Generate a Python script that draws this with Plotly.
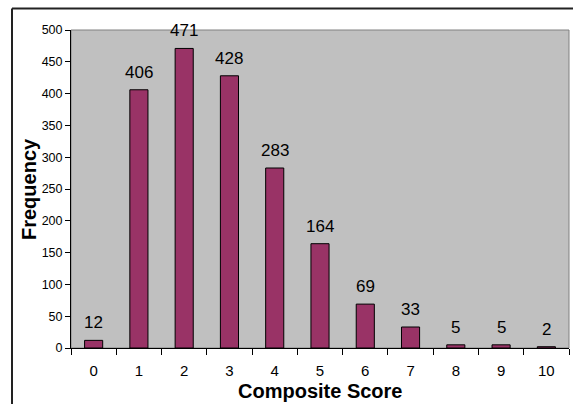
import plotly.graph_objects as go

# Composite score distribution
scores = ["0", "1", "2", "3", "4", "5", "6", "7", "8", "9", "10"]
frequency = [12, 406, 471, 428, 283, 164, 69, 33, 5, 5, 2]
y_ticks = [0, 50, 100, 150, 200, 250, 300, 350, 400, 450, 500]

FONT = "Arial, Liberation Sans, Helvetica, sans-serif"
W, H = 573, 404
ML, MR, MT, MB = 71, 4, 30, 56
pw, ph = W - ML - MR, H - MT - MB

fig = go.Figure(
    go.Bar(
        x=scores,
        y=frequency,
        marker=dict(color="#993366", line=dict(color="black", width=1)),
        hoverinfo="x+y",
    )
)

# value labels above each bar
for s, f in zip(scores, frequency):
    fig.add_annotation(
        x=s, y=f, text=str(f), showarrow=False, yanchor="bottom", yshift=6,
        font=dict(family=FONT, size=17, color="black"),
    )

# axis titles
fig.add_annotation(
    xref="paper", yref="paper", x=0.5, y=(H - MB - 391) / ph,
    text="<b>Composite Score</b>", showarrow=False, yanchor="middle",
    font=dict(family=FONT, size=20, color="black"),
)
fig.add_annotation(
    xref="paper", yref="paper", x=(29 - ML) / pw, y=0.5,
    text="<b>Frequency</b>", showarrow=False, textangle=-90,
    xanchor="center", yanchor="middle",
    font=dict(family=FONT, size=20, color="black"),
)

# outer chart frame (left and top edges)
fx = (12 - ML) / pw
fy = (H - MB - 8.5) / ph
fig.add_shape(type="line", xref="paper", yref="paper", x0=fx, x1=1.5, y0=fy, y1=fy,
              line=dict(color="#222222", width=2))
fig.add_shape(type="line", xref="paper", yref="paper", x0=fx, x1=fx, y0=fy, y1=-0.5,
              line=dict(color="#222222", width=2))
# plot area border
fig.add_shape(type="rect", xref="paper", yref="paper", x0=0, x1=1, y0=0, y1=1,
              line=dict(color="#808080", width=1), layer="below")

fig.update_layout(
    width=W, height=H,
    margin=dict(l=ML, r=MR, t=MT, b=MB),
    paper_bgcolor="white",
    plot_bgcolor="#C0C0C0",
    bargap=0.6,
    showlegend=False,
    font=dict(family=FONT, color="black"),
    xaxis=dict(
        type="category",
        tickson="boundaries",
        ticks="outside", ticklen=6, tickcolor="black",
        showline=True, linecolor="black", linewidth=1,
        showgrid=False,
        tickfont=dict(size=15),
        ticklabelstandoff=9,
    ),
    yaxis=dict(
        range=[0, 500],
        tickvals=y_ticks,
        ticks="outside", ticklen=5, tickcolor="black",
        showline=True, linecolor="black", linewidth=1,
        showgrid=False, zeroline=False,
        tickfont=dict(size=12.5),
    ),
)

fig.write_html("out.html")
